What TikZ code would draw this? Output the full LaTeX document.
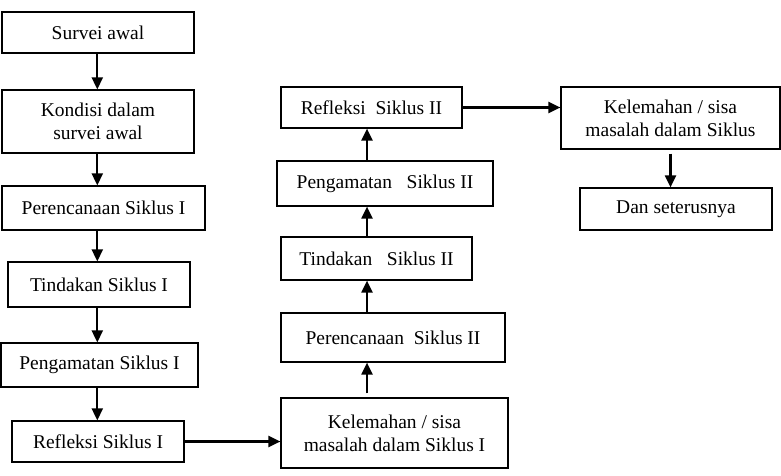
\documentclass[tikz,border=0pt]{standalone}
\usepackage{fontspec}
\setmainfont{Liberation Serif}
\usetikzlibrary{arrows.meta}
\begin{document}
\begin{tikzpicture}[x=1pt,y=-1pt,
  box/.style={draw=black,line width=1.2pt,inner sep=0pt,align=center,
    font=\fontsize{19.5}{23}\selectfont},
  arr/.style={line width=2.1pt,-{Triangle[length=12pt,width=11pt]}}]
\useasboundingbox (0,0) rectangle (781,476);
\coordinate (lx) at (97.3,0);
\coordinate (rx) at (367,0);
% left column
\node[box,minimum width=192pt,minimum height=41pt] (survei) at (98,32.5) {Survei awal};
\node[box,minimum width=192pt,minimum height=63pt] (kondisi) at (98,121.5) {Kondisi dalam\\survei awal};
\node[box,minimum width=203pt,minimum height=44pt] (renc1) at (103.5,208) {Perencanaan Siklus I};
\node[box,minimum width=182pt,minimum height=45pt] (tind1) at (99,284.5) {Tindakan Siklus I};
\node[box,minimum width=197pt,minimum height=44pt] (amat1) at (99.5,365) {Pengamatan Siklus I};
\node[box,minimum width=172pt,minimum height=41pt] (ref1) at (98,441.5) {Refleksi Siklus I};
% middle column
\node[box,minimum width=227pt,minimum height=70pt] (kel1) at (394.5,433) {Kelemahan / sisa\\masalah dalam Siklus I};
\node[box,minimum width=224pt,minimum height=49pt] (renc2) at (393,337.5) {Perencanaan\ \ Siklus II};
\node[box,minimum width=191pt,minimum height=43pt] (tind2) at (376.5,258.5) {Tindakan\ \ \ Siklus II};
\node[box,minimum width=216pt,minimum height=45pt] (amat2) at (385,183.5) {Pengamatan\ \ \ Siklus II};
\node[box,minimum width=181pt,minimum height=41pt] (ref2) at (371.5,107.5) {Refleksi\ \ Siklus II};
% right column
\node[box,minimum width=219pt,minimum height=62pt] (kel2) at (670.5,118) {Kelemahan / sisa\\masalah dalam Siklus};
\node[box,minimum width=192pt,minimum height=42pt] (dan) at (676,209) {Dan seterusnya};
% arrows left
\draw[arr] (survei.south -| lx) -- (kondisi.north -| lx);
\draw[arr] (kondisi.south -| lx) -- (renc1.north -| lx);
\draw[arr] (renc1.south -| lx) -- (tind1.north -| lx);
\draw[arr] (tind1.south -| lx) -- (amat1.north -| lx);
\draw[arr] (amat1.south -| lx) -- (ref1.north -| lx);
\draw[arr] (ref1.east) -- (ref1.east -| kel1.west);
% arrows middle
\draw[arr,shorten <=4pt] (kel1.north -| rx) -- (renc2.south -| rx);
\draw[arr] (renc2.north -| rx) -- (tind2.south -| rx);
\draw[arr] (tind2.north -| rx) -- (amat2.south -| rx);
\draw[arr] (amat2.north -| rx) -- (ref2.south -| rx);
\draw[arr] (ref2.east) -- (ref2.east -| kel2.west);
% arrows right
\draw[arr,shorten <=4pt] (kel2.south) -- (kel2.south |- dan.north);
\end{tikzpicture}
\end{document}
